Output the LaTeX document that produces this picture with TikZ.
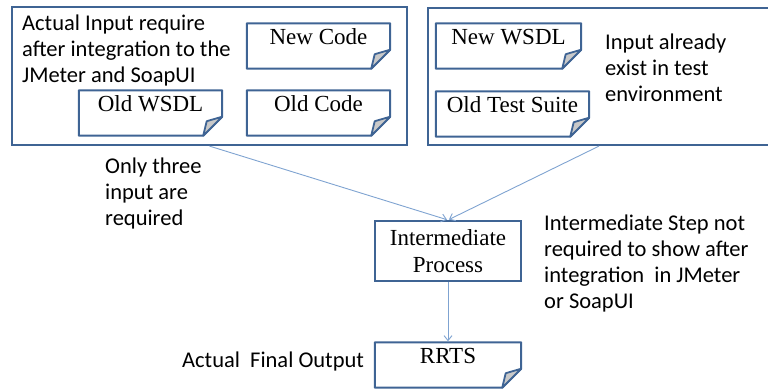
\documentclass[tikz,border=0pt]{standalone}
\usepackage{fontspec}
\setmainfont{Liberation Serif}
\newfontfamily\notefont{Carlito}
\usepackage{xcolor}
\usepackage{tikz}
\usetikzlibrary{arrows.meta, positioning}
\usetikzlibrary{calc}
\definecolor{boxblue}{HTML}{3F6494}
\definecolor{linkblue}{HTML}{7FA3D1}
\definecolor{foldgray}{HTML}{C9C9C9}
\tikzset{
  panel/.style={draw=boxblue, line width=2.2pt, inner sep=0pt},
  docnode/.style={inner sep=0pt, text height=21pt, text depth=24pt, font=\fontsize{23}{26}\selectfont},
  procnode/.style={draw=boxblue, line width=2pt, inner sep=0pt, minimum width=146pt, minimum height=60pt, align=center, font=\fontsize{23}{27}\selectfont},
  note/.style={inner sep=0pt, align=left, font=\notefont\fontsize{22.5}{26}\selectfont},
  link/.style={draw=linkblue, line width=0.9pt, -{Straight Barb[length=5pt,width=8pt]}, shorten >=1pt}
}

\begin{document}
\begin{tikzpicture}[x=1pt,y=-1pt]
            \clip (0,0) rectangle (768,389);
            \node[panel, minimum width=395pt, minimum height=138pt](leftpanel) at (209.5,76) {};
            \node[panel, minimum width=342pt, minimum height=137pt](rightpanel) at (599,76.5) {};
            \node[note, anchor=north west](leftnote) at (22,15) {Actual Input require\\after integration to the\\JMeter and SoapUI};
            \node[note, anchor=north west](rightnote) at (605,34) {Input already\\exist in test\\environment};
            \node[note, anchor=north west](onlynote) at (105,158) {Only three\\input are\\required};
            \node[note, anchor=north west](stepnote) at (544,215) {Intermediate Step not\\required to show after\\integration\ \ in JMeter\\or SoapUI};
            \node[note, anchor=base west](finalnote) at (182,367) {Actual\ \ Final Output};
            \node[docnode, minimum width=143pt](newcode) at (318.5,46) {New Code};
            \node[docnode, minimum width=143pt](oldwsdl) at (150.5,113) {Old WSDL};
            \node[docnode, minimum width=143pt](oldcode) at (318.5,113) {Old Code};
            \node[docnode, minimum width=145pt](newwsdl) at (508.5,46) {New WSDL};
            \node[docnode, minimum width=153pt](oldsuite) at (512.5,114) {Old Test Suite};
            \node[procnode](inter) at (448,251) {Intermediate\\Process};
            \node[docnode, minimum width=146pt](rrts) at (448,365) {RRTS};
            \foreach \n in {newcode,oldwsdl,oldcode,newwsdl,oldsuite,rrts} {
                \draw[boxblue, line width=2pt, line join=round] (\n.north west) -- (\n.north east)
                    -- ($(\n.south east)+(0,-19)$) -- ($(\n.south east)+(-19,0)$) -- (\n.south west) -- cycle;
                \filldraw[fill=foldgray, draw=boxblue, line width=1.8pt, line join=round]
                    ($(\n.south east)+(0,-19)$) -- ($(\n.south east)+(-19,0)$) -- ($(\n.south east)+(-15.5,-14.5)$) -- cycle;
            }
            \draw[link] (leftpanel.south) -- (inter.north);
            \draw[link] (rightpanel.south) -- (inter.north);
            \draw[link] (inter.south) -- (rrts.north);
        \end{tikzpicture}
\end{document}
